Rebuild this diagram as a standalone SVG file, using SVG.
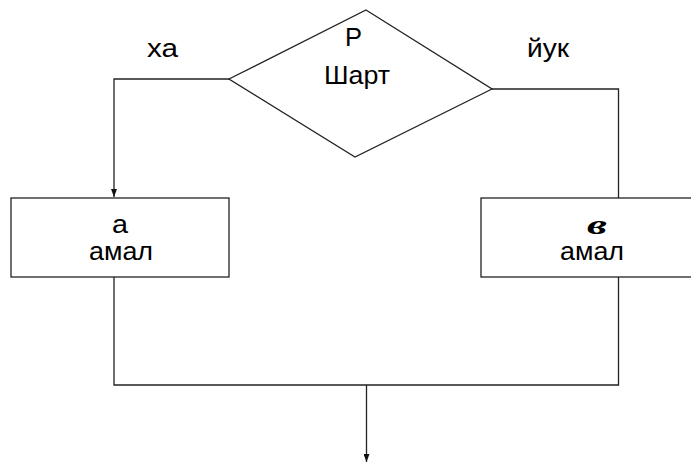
<svg xmlns="http://www.w3.org/2000/svg" width="691" height="462" viewBox="0 0 691 462">
<style>
.shape{fill:none;stroke:#222;stroke-width:1.3}
.wire{fill:none;stroke:#222;stroke-width:1.3}
.t{font-family:"Liberation Sans",Arial,sans-serif;font-size:25px;fill:#000}
.b{font-family:"Liberation Serif","Times New Roman",serif;font-size:28px;font-weight:bold;font-style:italic;fill:#000}
</style>
<defs>
<marker id="ah" viewBox="0 0 8 6" refX="8" refY="3" markerWidth="8" markerHeight="6" markerUnits="userSpaceOnUse" orient="auto">
<path d="M0,0 L8,3 L0,6 Z" fill="#111"/>
</marker>
</defs>
<rect width="691" height="462" fill="#fff"/>
<g id="connectors">
<polyline class="wire" points="229,79 114,79 114,197" marker-end="url(#ah)"/>
<polyline class="wire" points="492,89 618.5,89 618.5,198"/>
<polyline class="wire" points="114,277 114,385 618.5,385 618.5,277"/>
<line class="wire" x1="366.5" y1="385" x2="366.5" y2="462" marker-end="url(#ah)"/>
<text class="t" x="147" y="57" textLength="31" lengthAdjust="spacingAndGlyphs">ха</text>
<text class="t" x="527" y="57" textLength="42" lengthAdjust="spacingAndGlyphs">йук</text>
</g>
<g id="condition">
<polygon class="shape" points="366,10 492,89 355,157 229,79"/>
<text class="t" x="345" y="46" textLength="17" lengthAdjust="spacingAndGlyphs">Р</text>
<text class="t" x="324" y="84" textLength="66" lengthAdjust="spacingAndGlyphs">Шарт</text>
</g>
<g id="action-a">
<rect class="shape" x="11" y="198" width="218" height="79"/>
<text class="t" x="112" y="233" textLength="16" lengthAdjust="spacingAndGlyphs">а</text>
<text class="t" x="89" y="260" textLength="64" lengthAdjust="spacingAndGlyphs">амал</text>
</g>
<g id="action-b">
<rect class="shape" x="481" y="198" width="220" height="79"/>
<text class="b" x="587" y="234" textLength="20" lengthAdjust="spacingAndGlyphs">в</text>
<text class="t" x="560" y="260" textLength="64" lengthAdjust="spacingAndGlyphs">амал</text>
</g>
</svg>
